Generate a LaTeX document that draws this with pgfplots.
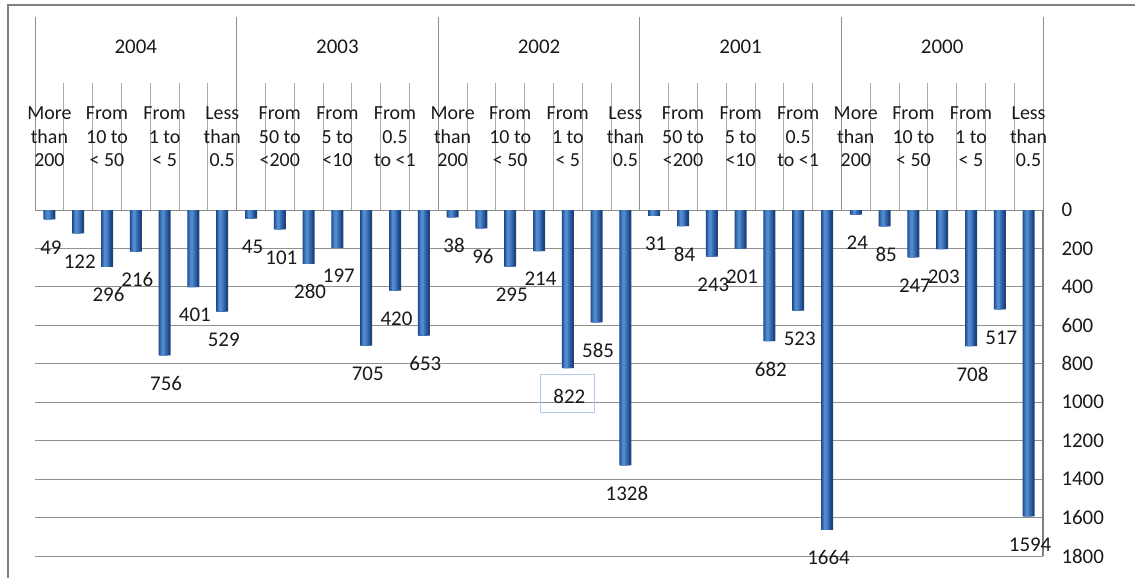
\documentclass[border=0pt]{standalone}
\usepackage{fontspec}
\setmainfont{Carlito}
\usepackage{pgfplots}
\usepackage{pgfplotstable}
\pgfplotsset{compat=1.18}

\definecolor{barA}{RGB}{30,68,126}
\definecolor{barB}{RGB}{44,92,160}
\definecolor{barC}{RGB}{60,115,185}
\definecolor{barD}{RGB}{80,138,208}
\definecolor{gridgray}{RGB}{145,145,145}
\definecolor{sepgray}{RGB}{168,168,168}
\definecolor{framegray}{RGB}{128,128,128}
\definecolor{selblue}{RGB}{178,202,238}
\definecolor{labeltext}{RGB}{25,25,25}

% Number of companies per size class, five years of seven classes each
\pgfplotstableread{
idx value
0 49
1 122
2 296
3 216
4 756
5 401
6 529
7 45
8 101
9 280
10 197
11 705
12 420
13 653
14 38
15 96
16 295
17 214
18 822
19 585
20 1328
21 31
22 84
23 243
24 201
25 682
26 523
27 1664
28 24
29 85
30 247
31 203
32 708
33 517
34 1594
}\sizes

\newcommand{\numfont}{\fontsize{21}{24}\selectfont}
\newcommand{\catfont}{\fontsize{20}{23.5}\selectfont}

\begin{document}
\begin{tikzpicture}
\path[use as bounding box] (0,0) rectangle (1135bp,578bp);
\draw[framegray, line width=2bp] (8bp,0) -- (8bp,573bp) -- (1135bp,573bp);
\begin{axis}[
  at={(35bp,22bp)}, anchor=south west,
  scale only axis, width=1008bp, height=346bp,
  clip=false,
  xmin=-0.5, xmax=34.5,
  ymin=0, ymax=1800, y dir=reverse,
  axis x line=none,
  axis y line*=right,
  y axis line style={draw=framegray, line width=1.2bp, -},
  xtick=\empty,
  ytick={0,200,...,1800},
  major tick length=0pt,
  ymajorgrids,
  grid style={gridgray, line width=1bp},
  /pgf/number format/assume math mode=true,
  /pgf/number format/1000 sep={},
  yticklabel style={font=\numfont, text=labeltext, anchor=west, xshift=15bp},
]
% cylinder-like bars: stacked layers of narrowing width, lighter towards the centre
\addplot[ybar, bar width=12bp, bar shift=0pt, draw=none, fill=barA]
  table[x=idx, y=value] {\sizes};
\addplot[ybar, bar width=9bp, bar shift=-0.8bp, draw=none, fill=barB]
  table[x=idx, y=value] {\sizes};
\addplot[ybar, bar width=6bp, bar shift=-1.2bp, draw=none, fill=barC]
  table[x=idx, y=value] {\sizes};
\addplot[ybar, bar width=3bp, bar shift=-1.5bp, draw=none, fill=barD,
  point meta=y,
  nodes near coords,
  every node near coord/.append style={font=\numfont, text=labeltext,
    anchor=center, xshift=1.5bp, yshift=-28bp}]
  table[x=idx, y=value] {\sizes};

% selection frame around one data label
\draw[selblue, line width=1bp]
  ([xshift=-27bp,yshift=-6bp]axis cs:18,822) rectangle ([xshift=27bp,yshift=-44bp]axis cs:18,822);

% category separators in the header
\pgfplotsinvokeforeach{-0.5,0.5,...,34.5}{
  \draw[sepgray, line width=0.9bp] (axis cs:#1,0) -- ([yshift=127bp]axis cs:#1,0);
}
% year separators
\pgfplotsinvokeforeach{-0.5,6.5,13.5,20.5,27.5,34.5}{
  \draw[sepgray!85!black, line width=1bp] (axis cs:#1,0) -- ([yshift=193bp]axis cs:#1,0);
}
% year labels
\node[font=\numfont, text=labeltext] at ([yshift=163bp]axis cs:3,0) {2004};
\node[font=\numfont, text=labeltext] at ([yshift=163bp]axis cs:10,0) {2003};
\node[font=\numfont, text=labeltext] at ([yshift=163bp]axis cs:17,0) {2002};
\node[font=\numfont, text=labeltext] at ([yshift=163bp]axis cs:24,0) {2001};
\node[font=\numfont, text=labeltext] at ([yshift=163bp]axis cs:31,0) {2000};

% size-class labels (every second class)
\tikzset{cat/.style={font=\catfont, text=labeltext, align=center, inner sep=0pt}}
\node[cat] at ([yshift=73bp]axis cs:0,0)  {More\\than\\200};
\node[cat] at ([yshift=73bp]axis cs:2,0)  {From\\10 to\\< 50};
\node[cat] at ([yshift=73bp]axis cs:4,0)  {From\\1 to\\< 5};
\node[cat] at ([yshift=73bp]axis cs:6,0)  {Less\\than\\0.5};
\node[cat] at ([yshift=73bp]axis cs:8,0)  {From\\50 to\\<200};
\node[cat] at ([yshift=73bp]axis cs:10,0) {From\\5 to\\<10};
\node[cat] at ([yshift=73bp]axis cs:12,0) {From\\0.5\\to <1};
\node[cat] at ([yshift=73bp]axis cs:14,0) {More\\than\\200};
\node[cat] at ([yshift=73bp]axis cs:16,0) {From\\10 to\\< 50};
\node[cat] at ([yshift=73bp]axis cs:18,0) {From\\1 to\\< 5};
\node[cat] at ([yshift=73bp]axis cs:20,0) {Less\\than\\0.5};
\node[cat] at ([yshift=73bp]axis cs:22,0) {From\\50 to\\<200};
\node[cat] at ([yshift=73bp]axis cs:24,0) {From\\5 to\\<10};
\node[cat] at ([yshift=73bp]axis cs:26,0) {From\\0.5\\to <1};
\node[cat] at ([yshift=73bp]axis cs:28,0) {More\\than\\200};
\node[cat] at ([yshift=73bp]axis cs:30,0) {From\\10 to\\< 50};
\node[cat] at ([yshift=73bp]axis cs:32,0) {From\\1 to\\< 5};
\node[cat] at ([yshift=73bp]axis cs:34,0) {Less\\than\\0.5};
\end{axis}
\end{tikzpicture}
\end{document}
